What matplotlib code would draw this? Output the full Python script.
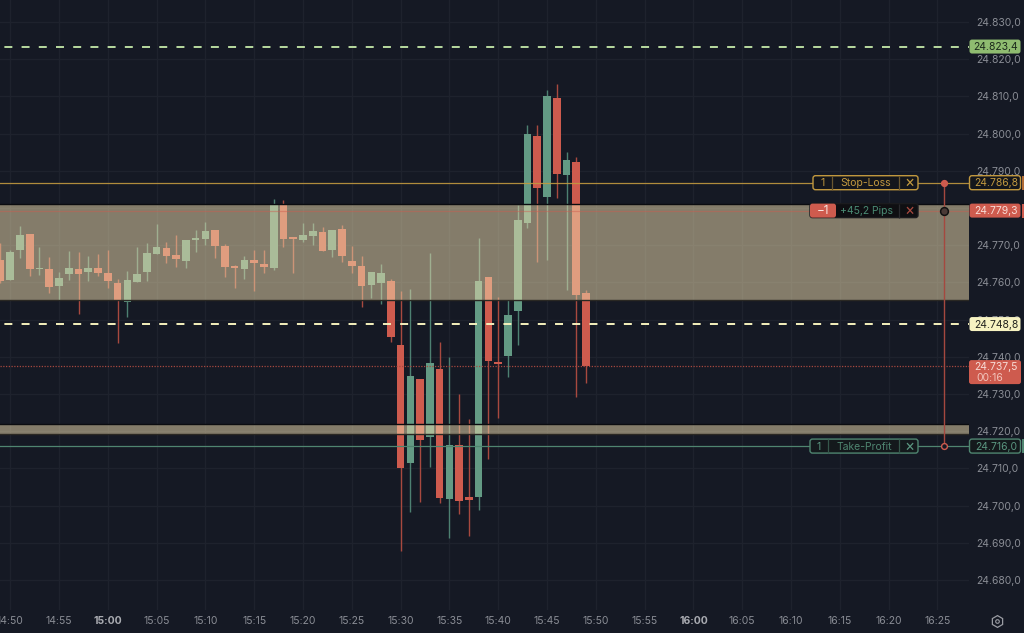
import numpy as np
import matplotlib
matplotlib.use("Agg")
import matplotlib.pyplot as plt
from matplotlib.patches import FancyBboxPatch, Rectangle
from matplotlib.ticker import FuncFormatter

plt.rcParams['font.family'] = ['Inter', 'DejaVu Sans']

# OHLC in thousandths above 24.000, one candle per minute, first one is 14:49
opens = [766.0, 760.6, 768.7, 773.0, 763.6, 763.6, 759.0, 762.2, 763.6, 762.8,
         763.8, 762.5, 759.8, 754.7, 760.1, 762.8, 767.6, 769.2, 767.3, 765.7,
         771.4, 771.6, 774.1, 769.8, 764.4, 763.6, 766.0, 764.9, 763.8, 780.8,
         772.2, 771.4, 772.4, 773.5, 768.7, 774.3, 765.7, 764.4, 759.3, 759.8,
         760.4, 743.2, 711.4, 734.0, 718.4, 736.7, 701.8, 716.3, 702.3, 702.3,
         761.4, 738.6, 740.2, 752.3, 775.9, 799.3, 782.9, 809.5, 788.8, 792.3, 757.1]
highs = [770.6, 768.7, 775.1, 773.0, 769.5, 766.8, 762.8, 768.4, 768.2, 767.1,
         767.6, 768.7, 760.9, 763.0, 769.5, 770.6, 775.7, 770.8, 772.7, 771.4,
         774.1, 776.2, 774.1, 770.3, 764.7, 767.1, 768.7, 768.7, 782.4, 782.1,
         772.2, 775.9, 775.9, 774.9, 774.1, 775.4, 769.8, 767.1, 762.8, 764.9,
         760.9, 757.7, 758.2, 734.0, 767.9, 744.0, 739.9, 730.0, 723.3, 771.9,
         761.4, 756.1, 755.2, 780.8, 802.3, 802.3, 811.7, 813.3, 795.0, 793.7, 757.9]
lows = [759.8, 760.6, 766.5, 761.7, 762.0, 757.1, 755.2, 760.6, 751.5, 760.4,
        761.7, 758.5, 743.7, 750.7, 760.1, 760.4, 767.6, 765.2, 764.1, 763.8,
        768.2, 770.0, 766.5, 761.4, 758.5, 760.9, 757.7, 762.5, 763.3, 769.5,
        762.5, 770.8, 770.0, 768.4, 766.8, 765.5, 762.5, 753.4, 755.8, 754.2,
        744.0, 687.8, 698.3, 701.0, 710.4, 700.7, 691.3, 697.7, 691.8, 698.8,
        712.5, 723.5, 734.5, 743.2, 774.6, 765.5, 766.0, 782.7, 757.9, 729.2, 732.9]
closes = [760.4, 768.2, 772.7, 763.6, 763.9, 758.7, 761.2, 763.8, 762.2, 763.8,
          762.5, 760.4, 755.2, 760.6, 762.2, 767.9, 769.5, 767.1, 766.3, 771.4,
          771.9, 773.8, 769.8, 764.1, 763.8, 766.0, 765.2, 764.1, 780.8, 771.6,
          771.6, 772.7, 773.8, 768.4, 774.1, 767.1, 764.4, 759.0, 762.8, 762.5,
          745.3, 710.1, 734.8, 717.6, 738.3, 702.0, 716.3, 701.2, 701.5, 760.4,
          738.9, 738.0, 751.2, 776.8, 799.9, 785.4, 810.1, 789.1, 792.9, 756.6, 737.5]

supply_zone = (24.7552, 24.7812)
demand_zone = (24.7192, 24.7220)
stop_loss = 24.7868
take_profit = 24.7160
entry = 24.7793
upper_level = 24.8234
lower_level = 24.7488
last_price = 24.7375

time_labels = ['14:50', '14:55', '15:00', '15:05', '15:10', '15:15', '15:20', '15:25',
               '15:30', '15:35', '15:40', '15:45', '15:50', '15:55', '16:00', '16:05',
               '16:10', '16:15', '16:20', '16:25']
price_ticks = np.arange(24.680, 24.8301, 0.010)

BG = '#151924'
GRID = '#1e222d'
RED = '#ce5b4e'
GREEN = '#639a84'
ORANGE = '#c2993f'
TP_GREEN = '#4f8570'
LABEL = '#8a8d95'
FS = 7.5

fig = plt.figure(figsize=(10.24, 6.33), dpi=100, facecolor=BG)
ax = fig.add_axes([0, 23 / 633, 969 / 1024, 610 / 633], facecolor=BG)
ui = fig.add_axes([0, 0, 1, 1], facecolor='none')
ui.set_xlim(0, 1024)
ui.set_ylim(633, 0)
ui.axis('off')

# ---- candles ----
o, h, l, c = [24 + np.array(a) / 1000 for a in (opens, highs, lows, closes)]
t = np.arange(len(o)) - 1
colors = np.where(c >= o, GREEN, RED)
wick_colors = np.where(c >= o, '#4d8071', '#a8493f')
ax.vlines(t, l, h, colors=wick_colors, lw=1.0, zorder=2)
ax.bar(t, np.abs(c - o), bottom=np.minimum(o, c), width=0.78, color=colors, lw=0, zorder=3)

# ---- zones and levels ----
for lo, hi in (supply_zone, demand_zone):
    ax.axhspan(lo, hi, color='#f0ddaf', alpha=0.51, lw=0, zorder=4)
    ax.axhline(hi, color='#0b0c10', lw=1.0, zorder=5)
    ax.axhline(lo, color='#2a2823', lw=1.0, zorder=5)

dash = (6.6, (4.1, 4.75))
ax.axhline(entry, color=RED, lw=0.9, alpha=0.45, zorder=5)
ax.axhline(stop_loss, color=ORANGE, lw=0.9, alpha=0.9, zorder=5)
ax.axhline(take_profit, color=TP_GREEN, lw=0.9, zorder=5)
ax.axhline(last_price, color='#a5483f', lw=0.9, ls=(0, (1, 1.2)), zorder=5)
ax.axhline(upper_level, color='#b9dba0', lw=1.4, ls=dash, zorder=5)
ax.axhline(lower_level, color='#f6f1bd', lw=1.4, ls=dash, zorder=5)

# ---- axes ----
px_per_min = 9.76
ax.set_xlim(-10.2 / px_per_min, (969 - 10.2) / px_per_min)
ax.set_ylim(24.830 - (610 - 22) / 3720, 24.830 + 22 / 3720)
for s in ax.spines.values():
    s.set_visible(False)
ax.set_xticks(np.arange(len(time_labels)) * 5)
ax.set_xticklabels(time_labels)
ax.set_yticks(price_ticks)
ax.yaxis.set_major_formatter(FuncFormatter(lambda v, _: f'{v:.3f},0'))
ax.yaxis.tick_right()
ax.tick_params(axis='x', length=0, pad=4, labelsize=FS, labelcolor=LABEL)
ax.tick_params(axis='y', length=0, pad=5, labelsize=FS, labelcolor=LABEL)
for i in (2, 14):
    ax.xaxis.get_ticklabels()[i].set_fontweight('bold')
    ax.xaxis.get_ticklabels()[i].set_color('#a9abb1')
ax.grid(color=GRID, lw=0.9, zorder=0)
ax.set_axisbelow(True)


def price_y(price):
    # pixel row of a price on the overlay axes
    x, y = ax.transData.transform((0, price))
    return ui.transData.inverted().transform((x, y))[1]


def box(x0, x1, y0, y1, face, edge='none', radius=2.5, z=10):
    ui.add_patch(FancyBboxPatch((x0 + radius, y0 + radius), x1 - x0 - 2 * radius, y1 - y0 - 2 * radius,
                                boxstyle=f'round,pad={radius},rounding_size={radius}',
                                fc=face, ec=edge, lw=1.0, zorder=z))


def label(x, y, text, color, size=FS, ha='center'):
    ui.text(x, y + 0.5, text, color=color, fontsize=size, ha=ha, va='center', zorder=11)


def price_tag(price, text, face, text_color, edge='none', tail=None):
    y = price_y(price)
    box(969.5, 1020.5, y - 7, y + 7, face, edge)
    label(996, y, text, text_color)
    if tail:
        ui.add_patch(Rectangle((1022, y - 7), 2, 14, fc=tail, lw=0, zorder=10))


price_tag(upper_level, '24.823,4', '#8fbc70', '#1c2a1c')
price_tag(stop_loss, '24.786,8', '#14161c', ORANGE, edge=ORANGE, tail='#b06a35')
price_tag(entry, '24.779,3', RED, '#f7dcd6', tail=RED)
price_tag(lower_level, '24.748,8', '#f7f3c2', '#23241f')
price_tag(take_profit, '24.716,0', '#14191c', '#5a9680', edge=TP_GREEN, tail=TP_GREEN)

# last price tag carries the countdown
y_last = price_y(last_price)
box(969, 1021, y_last - 6, y_last + 18, RED)
label(996, y_last, '24.737,5', '#f7dcd6')
label(976, y_last + 11, '00:16', '#f2c4bb', ha='left')

# ---- order pills ----
y_sl = price_y(stop_loss)
box(813, 918, y_sl - 7, y_sl + 7, '#14161c', ORANGE)
ui.vlines([832, 899], y_sl - 7, y_sl + 7, color='#6b5730', lw=0.9, zorder=11)
label(823, y_sl, '1', ORANGE)
label(866, y_sl, 'Stop-Loss', ORANGE)
label(909, y_sl - 0.5, '×', ORANGE, size=11)

y_en = price_y(entry)
box(810, 918, y_en - 7, y_en + 7, '#0f0f12', '#1b1b1e')
box(810, 836, y_en - 7, y_en + 7, RED)
label(823, y_en, '−1', '#f9e3de', size=8.5)
label(867, y_en, '+45,2 Pips', '#4a8a73')
ui.vlines(899, y_en - 7, y_en + 7, color='#2a2a2e', lw=0.9, zorder=11)
label(909, y_en - 0.5, '×', '#a8493f', size=11)

y_tp = price_y(take_profit)
box(810, 918, y_tp - 7, y_tp + 7, '#14191c', TP_GREEN)
ui.vlines([828, 899], y_tp - 7, y_tp + 7, color='#35574b', lw=0.9, zorder=11)
label(819, y_tp, '1', '#5a9680')
label(864, y_tp, 'Take-Profit', '#4f8570')
label(909, y_tp - 0.5, '×', '#5a9680', size=11)

# risk line joining the stop and the target
ui.plot([943.5, 943.5], [y_sl, y_tp], color='#a5483f', lw=1.0, zorder=9)
ui.plot(943.5, y_sl, 'o', ms=4.2, mfc=RED, mec=RED, zorder=12)
ui.plot(943.5, y_en, 'o', ms=5.6, mfc='#4a3a36', mec='#111', mew=1.1, zorder=12)
ui.plot(943.5, y_tp, 'o', ms=4.2, mfc=BG, mec=RED, mew=1.0, zorder=12)

# settings gear
ui.plot(997, 621, marker='h', ms=8.5, mfc='none', mec='#9a9ca3', mew=0.9, zorder=12)
ui.plot(997, 621, 'o', ms=2.6, mfc='none', mec='#9a9ca3', mew=0.8, zorder=13)

plt.savefig('out.png', dpi=100, facecolor=BG)
